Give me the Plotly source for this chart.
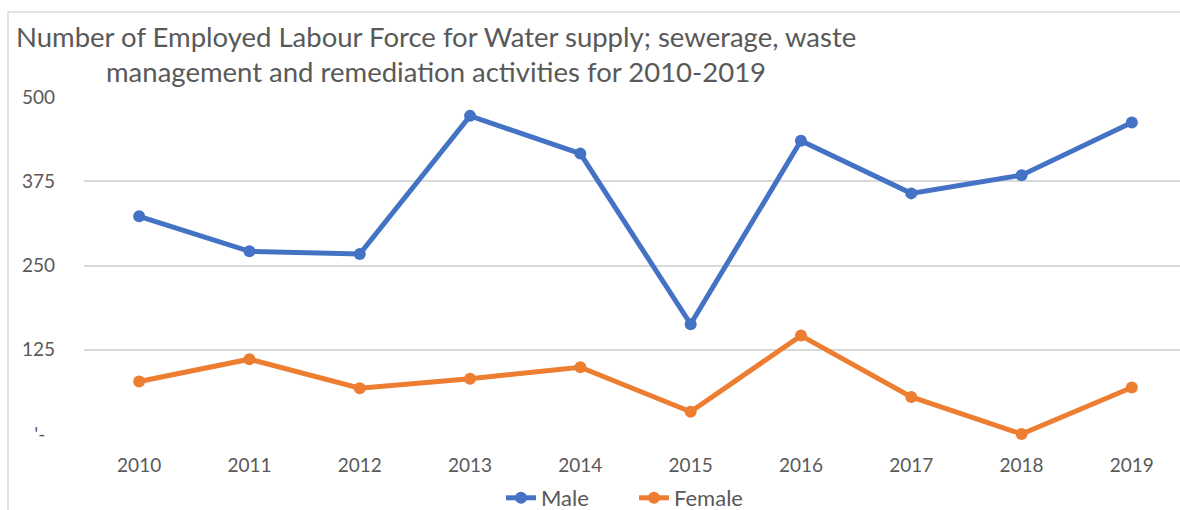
import plotly.graph_objects as go

years = ["2010", "2011", "2012", "2013", "2014", "2015", "2016", "2017", "2018", "2019"]
male = [323, 271, 267, 472, 416, 163, 435, 357, 384, 462]
female = [78, 111, 68, 82, 99, 33, 146, 55, 0, 69]
y_tickvals = [0, 125, 250, 375, 500]
y_ticktext = ["'-\u00a0\u00a0", "125", "250", "375", "500"]
title_lines = ["Number of Employed Labour Force for Water supply; sewerage, waste",
               "management and remediation activities for 2010-2019"]

FONT = "Lato"
GREY = "#595959"

fig = go.Figure()
fig.add_trace(go.Scatter(x=years, y=male, name="Male", mode="lines+markers",
                         line=dict(color="#4472C4", width=5),
                         marker=dict(size=12, color="#4472C4"), cliponaxis=False))
fig.add_trace(go.Scatter(x=years, y=female, name="Female", mode="lines+markers",
                         line=dict(color="#ED7D31", width=5),
                         marker=dict(size=12, color="#ED7D31"), cliponaxis=False))

W, H = 1180, 510
L, R, T = 84, 0, 97
B = H - 434
pw = W - L - R
ph = H - T - B

def px_x(px):
    return (px - L) / pw

def px_y(py):
    return (H - B - py) / ph

annotations = []
for txt, ypx in zip(title_lines, [36, 71]):
    annotations.append(dict(text=txt, xref="paper", yref="paper", x=px_x(436), y=px_y(ypx),
                            xanchor="center", yanchor="middle", showarrow=False,
                            font=dict(family=FONT, size=27.5, color=GREY)))

fig.update_layout(
    width=W, height=H,
    margin=dict(l=L, r=R, t=T, b=B, autoexpand=False),
    paper_bgcolor="white", plot_bgcolor="white",
    font=dict(family=FONT, color=GREY),
    annotations=annotations,
    showlegend=True,
    legend=dict(orientation="h", x=px_x(634), xanchor="center", y=px_y(498), yanchor="middle",
                entrywidth=88, entrywidthmode="pixels",
                font=dict(family=FONT, size=22, color=GREY), bgcolor="rgba(0,0,0,0)"),
    xaxis=dict(type="category", range=[-0.5, -0.5 + pw / 110.3], showgrid=False,
               zeroline=False, showline=False, ticks="",
               tickfont=dict(family=FONT, size=19, color=GREY), ticklabelstandoff=18),
    yaxis=dict(range=[0, 500], tickvals=y_tickvals, ticktext=y_ticktext,
               showgrid=True, gridcolor="#D9D9D9", gridwidth=1.5,
               zeroline=False, showline=False, ticks="",
               tickfont=dict(family=FONT, size=19, color=GREY), ticklabelstandoff=28),
    shapes=[dict(type="rect", xref="paper", yref="paper",
                 x0=px_x(8), x1=px_x(1300), y0=px_y(12), y1=px_y(600),
                 line=dict(color="#D9D9D9", width=1.5), layer="below")],
)

fig.write_html("out.html", config={"displayModeBar": False},
               post_script="document.body.style.margin='0';document.body.style.overflow='hidden';")
